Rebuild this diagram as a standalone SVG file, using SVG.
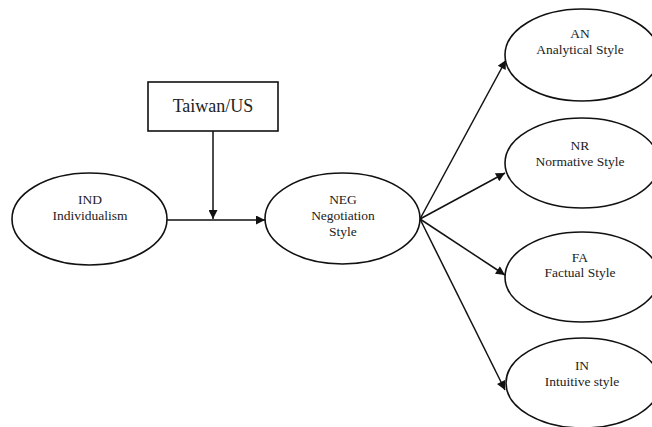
<svg xmlns="http://www.w3.org/2000/svg" width="652" height="427" viewBox="0 0 652 427">
<style>
.n{fill:#fff;stroke:#111;stroke-width:1.6}
.t{font-family:'Liberation Serif','Times New Roman',serif;font-size:13.5px;fill:#222;text-anchor:middle}
.c{fill:none;stroke:#111;stroke-width:1.5}
</style>
<defs>
<marker id="ah" viewBox="0 0 10 10" refX="10" refY="5" markerWidth="11" markerHeight="9" markerUnits="userSpaceOnUse" orient="auto">
<path d="M0,0 L10,5 L0,10 z" fill="#111"/>
</marker>
</defs>
<rect width="652" height="427" fill="#fff"/>
<g id="connectors">
<line class="c" x1="167" y1="220" x2="265" y2="220" marker-end="url(#ah)"/>
<line class="c" x1="213" y1="131" x2="213" y2="219" marker-end="url(#ah)"/>
<line class="c" x1="420" y1="219" x2="506" y2="60" marker-end="url(#ah)"/>
<line class="c" x1="420" y1="219" x2="505" y2="173" marker-end="url(#ah)"/>
<line class="c" x1="420" y1="219" x2="505" y2="275" marker-end="url(#ah)"/>
<line class="c" x1="420" y1="219" x2="505" y2="390" marker-end="url(#ah)"/>
</g>
<g id="taiwan">
<rect class="n" x="148" y="82" width="130" height="49"/>
<text class="t" x="213" y="112" style="font-size:18px">Taiwan/US</text>
</g>
<g id="ind">
<ellipse class="n" cx="89.5" cy="219" rx="77.5" ry="46"/>
<text class="t" x="90" y="204">IND</text>
<text class="t" x="90" y="220">Individualism</text>
</g>
<g id="neg">
<ellipse class="n" cx="342.5" cy="218.5" rx="77.5" ry="45.5"/>
<text class="t" x="343" y="204">NEG</text>
<text class="t" x="343" y="220">Negotiation</text>
<text class="t" x="343" y="236">Style</text>
</g>
<g id="an">
<ellipse class="n" cx="582" cy="55" rx="77" ry="46"/>
<text class="t" x="580" y="38">AN</text>
<text class="t" x="580" y="54">Analytical Style</text>
</g>
<g id="nr">
<ellipse class="n" cx="582" cy="163" rx="77" ry="45"/>
<text class="t" x="580" y="150">NR</text>
<text class="t" x="580" y="166">Normative Style</text>
</g>
<g id="fa">
<ellipse class="n" cx="582" cy="277" rx="77" ry="45"/>
<text class="t" x="580" y="262">FA</text>
<text class="t" x="580" y="277">Factual Style</text>
</g>
<g id="in">
<ellipse class="n" cx="583" cy="383" rx="77" ry="45"/>
<text class="t" x="582" y="370">IN</text>
<text class="t" x="582" y="386">Intuitive style</text>
</g>
</svg>
